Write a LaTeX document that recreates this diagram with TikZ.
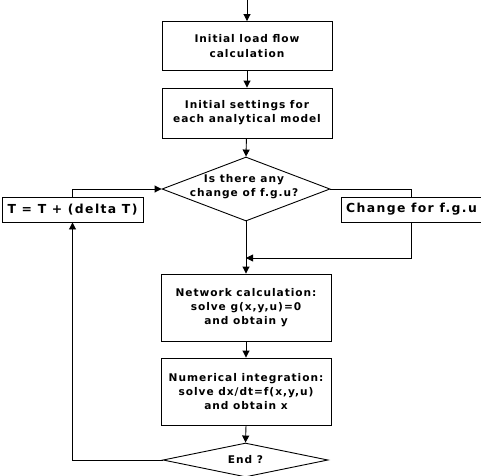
\documentclass[tikz,border=0pt]{standalone}
\usepackage{fontspec}
\setmainfont[LetterSpace=9]{DejaVu Sans}
\usetikzlibrary{shapes.geometric,arrows.meta}
\begin{document}
\begin{tikzpicture}[x=1pt,y=-1pt,
  font=\fontsize{10.6}{14.2}\selectfont\bfseries,
  box/.style={draw,line width=0.9pt,inner sep=0pt,align=center},
  sidebox/.style={box,minimum width=141pt,minimum height=25pt,font=\fontsize{12.4}{14.2}\selectfont\bfseries\addfontfeature{LetterSpace=11}},
  dia/.style={draw,line width=0.9pt,diamond,inner sep=0pt},
  txt/.style={inner sep=0pt,align=center},
  conn/.style={line width=0.9pt},
  arr/.style={conn,-{Triangle[length=7pt,width=7pt]}}]
\useasboundingbox (0,0) rectangle (481,475);
\coordinate (top) at (247,0);
\node[box,minimum width=170pt,minimum height=49pt] (b1) at (247,46) {Initial load flow\\calculation};
\node[box,minimum width=170pt,minimum height=50pt] (b2) at (247,113) {Initial settings for\\each analytical model};
\node[dia,minimum width=168pt,minimum height=64pt] (d1) at (246,189) {};
\node[txt] (d1t) at (244,187) {Is there any\\change of f.g.u?};
\node[sidebox] (tb) at (72.5,209.5) {T = T + (delta T)};
\node[sidebox] (cb) at (411.5,209.5) {Change for f.g.u};
\node[box,minimum width=170pt,minimum height=67pt] (net) at (246,307.5) {Network calculation:\\solve g(x,y,u)=0\\and obtain y};
\node[box,minimum width=170pt,minimum height=67pt] (num) at (246,391.5) {Numerical integration:\\solve dx/dt=f(x,y,u)\\and obtain x};
\node[dia,minimum width=165pt,minimum height=34pt] (end) at (245.5,460) {};
\node[txt] (endt) at (245.5,460) {End ?};
\draw[arr] (top) -- (b1.north);
\draw[arr] (b1) -- (b2);
\draw[arr] (b2) -- (d1.north);
\draw[arr] (tb.north) |- (d1.west);
\draw[conn] (d1.east) -| (cb.north);
\draw[arr] (d1.south) -- (net.north);
\coordinate (j) at (net.north |- 0,258);
\draw[arr] (cb.south) |- (j);
\draw[arr] (net) -- (num);
\draw[arr] (num.south) -- (end.north);
\draw[arr] (end.west) -| (tb.south);
\end{tikzpicture}
\end{document}
